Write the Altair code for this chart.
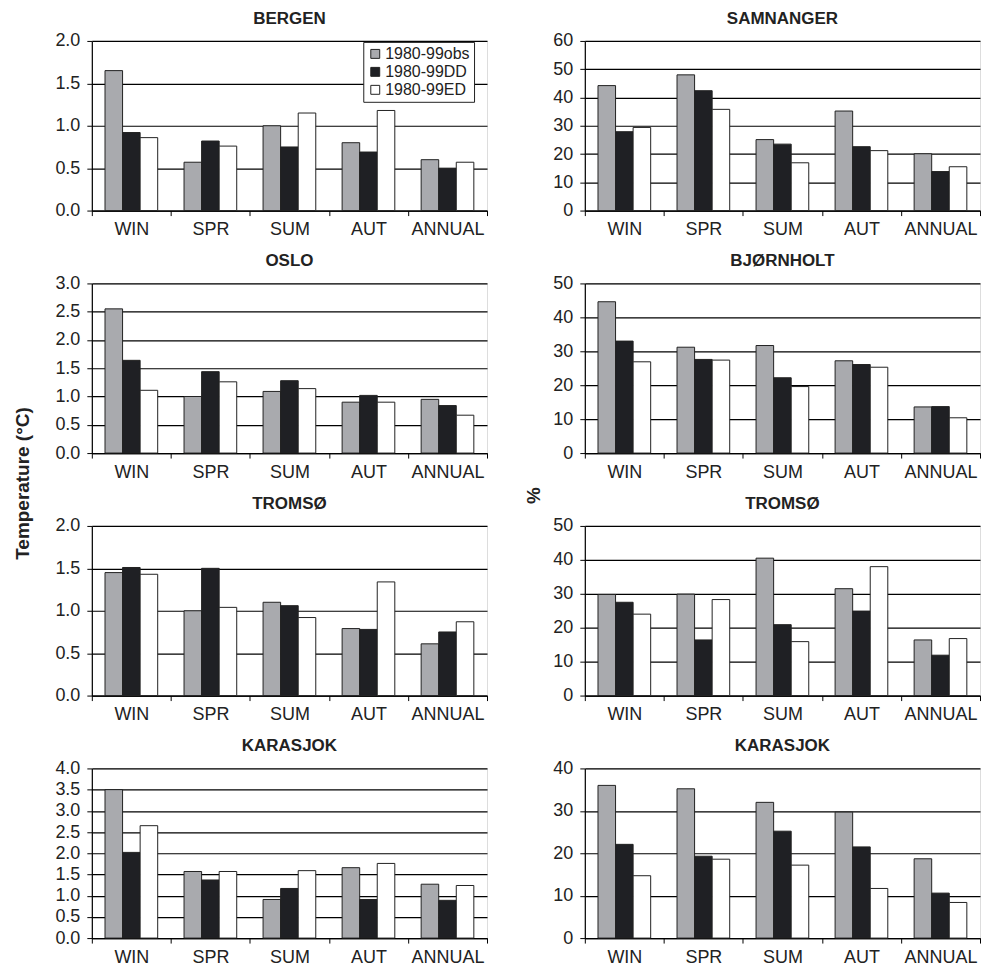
import altair as alt
import pandas as pd

SEASONS = ["WIN", "SPR", "SUM", "AUT", "ANNUAL"]
SERIES = ["1980-99obs", "1980-99DD", "1980-99ED"]
COLORS = ["#a9aaae", "#1f2024", "#ffffff"]

# Temperature panels (left column)
bergen_obs = [1.65, 0.57, 1.00, 0.80, 0.60]
bergen_dd = [0.92, 0.82, 0.75, 0.69, 0.50]
bergen_ed = [0.86, 0.76, 1.15, 1.18, 0.57]

oslo_obs = [2.55, 1.00, 1.09, 0.90, 0.95]
oslo_dd = [1.64, 1.44, 1.28, 1.02, 0.84]
oslo_ed = [1.11, 1.26, 1.14, 0.90, 0.67]

tromso_t_obs = [1.45, 1.00, 1.10, 0.79, 0.61]
tromso_t_dd = [1.51, 1.50, 1.06, 0.78, 0.75]
tromso_t_ed = [1.43, 1.04, 0.92, 1.34, 0.87]

karasjok_t_obs = [3.50, 1.57, 0.91, 1.66, 1.27]
karasjok_t_dd = [2.02, 1.37, 1.17, 0.91, 0.89]
karasjok_t_ed = [2.65, 1.57, 1.59, 1.76, 1.24]

# Precipitation panels (right column, %)
samnanger_obs = [44.2, 48.0, 25.1, 35.2, 20.1]
samnanger_dd = [27.9, 42.4, 23.5, 22.6, 13.8]
samnanger_ed = [29.4, 35.8, 16.9, 21.2, 15.5]

bjornholt_obs = [44.6, 31.2, 31.7, 27.2, 13.6]
bjornholt_dd = [33.0, 27.6, 22.2, 26.1, 13.7]
bjornholt_ed = [26.9, 27.4, 19.6, 25.3, 10.4]

tromso_p_obs = [29.8, 29.9, 40.5, 31.5, 16.4]
tromso_p_dd = [27.5, 16.4, 20.9, 24.9, 11.9]
tromso_p_ed = [24.0, 28.3, 15.9, 38.0, 16.8]

karasjok_p_obs = [36.0, 35.2, 32.0, 29.7, 18.7]
karasjok_p_dd = [22.1, 19.3, 25.2, 21.5, 10.6]
karasjok_p_ed = [14.7, 18.6, 17.2, 11.7, 8.4]

TEMP_TICKS_2 = [0.0, 0.5, 1.0, 1.5, 2.0]
TEMP_TICKS_3 = [0.0, 0.5, 1.0, 1.5, 2.0, 2.5, 3.0]
TEMP_TICKS_4 = [0.0, 0.5, 1.0, 1.5, 2.0, 2.5, 3.0, 3.5, 4.0]
PCT_TICKS_60 = [0, 10, 20, 30, 40, 50, 60]
PCT_TICKS_50 = [0, 10, 20, 30, 40, 50]
PCT_TICKS_40 = [0, 10, 20, 30, 40]

FONT = "Liberation Sans"
W, H = 396, 170
LBL = 18


def make_panel(title, obs, dd, ed, ticks, fmt, legend=False, ytitle=None, tx=0, ty=0):
    rows = []
    for i, s in enumerate(SEASONS):
        for ser, vals in zip(SERIES, (obs, dd, ed)):
            rows.append({"season": s, "series": ser, "value": vals[i]})
    df = pd.DataFrame(rows)

    yaxis_kw = dict(
        values=ticks, format=fmt, grid=True, gridColor="black", gridWidth=1.2,
        domainColor="black", domainWidth=1.2, tickColor="black", tickSize=5,
        labelFontSize=LBL, labelColor="#222", labelPadding=7, labelFont=FONT,
    )
    if ytitle:
        yaxis_kw.update(
            title=ytitle, titleX=tx, titleY=ty, titleAngle=-90,
            titleBaseline="alphabetic", titleFontSize=19, titleFontWeight="bold",
            titleColor="#222", titleFont=FONT,
        )
        y = alt.Y("value:Q", scale=alt.Scale(domain=[ticks[0], ticks[-1]], nice=False),
                  axis=alt.Axis(**yaxis_kw))
    else:
        y = alt.Y("value:Q", title=None,
                  scale=alt.Scale(domain=[ticks[0], ticks[-1]], nice=False),
                  axis=alt.Axis(**yaxis_kw))

    if legend:
        leg = alt.Legend(
            orient="none", legendX=272, legendY=1, title=None,
            strokeColor="#222", fillColor="white", padding=4,
            symbolType="square", symbolSize=80, symbolStrokeColor="#222",
            symbolStrokeWidth=1, labelFontSize=16, labelFont=FONT,
            labelColor="#222", labelOffset=2, rowPadding=2,
        )
        color = alt.Color("series:N", sort=SERIES,
                          scale=alt.Scale(domain=SERIES, range=COLORS), legend=leg)
    else:
        color = alt.Color("series:N", sort=SERIES,
                          scale=alt.Scale(domain=SERIES, range=COLORS), legend=None)

    chart = alt.Chart(df).mark_bar(stroke="#222", strokeWidth=1).encode(
        x=alt.X("season:N", sort=SEASONS, title=None,
                scale=alt.Scale(paddingInner=0, paddingOuter=0),
                axis=alt.Axis(tickBand="extent", labelAngle=0, domainColor="black",
                              domainWidth=1.2, tickColor="black", tickSize=5,
                              labelFontSize=LBL, labelColor="#222", labelPadding=5,
                              labelFont=FONT, grid=False)),
        xOffset=alt.XOffset("series:N", sort=SERIES,
                            scale=alt.Scale(paddingOuter=0.75, paddingInner=0)),
        y=y,
        color=color,
    ).properties(
        width=W, height=H,
        title=alt.Title(title, fontSize=17, fontWeight="bold", font=FONT,
                        color="#222", offset=4, anchor="middle", frame="group"),
    )
    return chart


charts = [
    make_panel("BERGEN", bergen_obs, bergen_dd, bergen_ed, TEMP_TICKS_2, ".1f", legend=True),
    make_panel("SAMNANGER", samnanger_obs, samnanger_dd, samnanger_ed, PCT_TICKS_60, "d"),
    make_panel("OSLO", oslo_obs, oslo_dd, oslo_ed, TEMP_TICKS_3, ".1f",
               ytitle="Temperature (°C)", tx=-63, ty=200),
    make_panel("BJØRNHOLT", bjornholt_obs, bjornholt_dd, bjornholt_ed, PCT_TICKS_50, "d",
               ytitle="%", tx=-45, ty=212),
    make_panel("TROMSØ", tromso_t_obs, tromso_t_dd, tromso_t_ed, TEMP_TICKS_2, ".1f"),
    make_panel("TROMSØ", tromso_p_obs, tromso_p_dd, tromso_p_ed, PCT_TICKS_50, "d"),
    make_panel("KARASJOK", karasjok_t_obs, karasjok_t_dd, karasjok_t_ed, TEMP_TICKS_4, ".1f"),
    make_panel("KARASJOK", karasjok_p_obs, karasjok_p_dd, karasjok_p_ed, PCT_TICKS_40, "d"),
]

chart = alt.concat(
    *charts, columns=2, spacing={"row": 73, "column": 98}, bounds="flush"
).resolve_scale(color="independent").resolve_legend(color="independent").properties(
    padding={"top": 0, "left": 5, "right": 0, "bottom": 5}
).configure_view(
    stroke="black", strokeWidth=1.2
).configure(font=FONT)

chart.save("out.html", embed_options={"renderer": "svg", "actions": False})
